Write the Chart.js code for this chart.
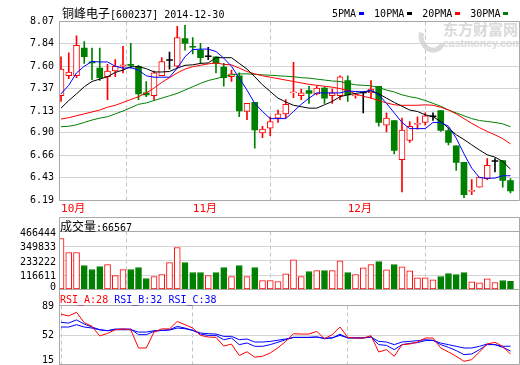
<!DOCTYPE html>
<html lang="zh-CN">
<head>
<meta charset="utf-8">
<title>铜峰电子[600237] 2014-12-30</title>
<script src="https://cdn.jsdelivr.net/npm/chart.js@4.4.1/dist/chart.umd.min.js"></script>
<style>
  html, body { margin: 0; padding: 0; background: #fff; }
  #wrap { position: relative; width: 520px; height: 365px; overflow: hidden; }
  #wrap canvas { position: absolute; left: 0; }
  .t { position: absolute; white-space: nowrap; font: 10px/14px "DejaVu Sans Mono", monospace; color: #000; }
  .cjk { font-family: "Noto Sans CJK SC", sans-serif; font-size: 12px; }
  .leg i { display: inline-block; width: 5px; height: 3px; margin: 0 10px 0 3px; vertical-align: 2px; }
  .wm1 { position: absolute; left: 443px; top: 20px; font: bold 15px/18px "Noto Sans CJK SC"; color: #dadada; }
  .wm2 { position: absolute; left: 443px; top: 37px; font: bold 10.5px/12px "Liberation Sans"; color: #dadada; }
  .logo { position: absolute; left: 419px; top: 23px; width: 16px; height: 20px; border: 5px solid transparent;
          border-left-color: #dadada; border-bottom-color: #dadada; border-radius: 50%; transform: rotate(-25deg); }
</style>
</head>
<body>
<div id="wrap">
  <div class="logo"></div>
  <div class="wm1">东方财富网</div>
  <div class="wm2">eastmoney.com</div>
  <canvas id="cMain" width="520" height="217" style="top:0"></canvas>
  <canvas id="cVol" width="520" height="83" style="top:217px"></canvas>
  <canvas id="cRsi" width="520" height="76" style="top:289px"></canvas>
  <div class="t" id="title" style="left:62px;top:6px"></div>
  <div class="t leg" id="legend" style="left:332px;top:7px"></div>
  <div class="t" id="volLabel" style="left:60px;top:219px"></div>
  <div class="t" id="rsiLabel" style="left:60px;top:293px"></div>
</div>
<script>
// 股票信息
const stockName = '铜峰电子';
const stockCode = '600237';
const lastDate = '2014-12-30';

// 交易日 (2014年10月9日 - 12月30日)
const dates = [
  '10-09','10-10','10-13','10-14','10-15','10-16','10-17','10-20','10-21','10-22',
  '10-23','10-24','10-27','10-28','10-29','10-30','10-31',
  '11-03','11-04','11-05','11-06','11-07','11-10','11-11','11-12','11-13','11-14',
  '11-17','11-18','11-19','11-20','11-21','11-24','11-25','11-26','11-27','11-28',
  '12-01','12-02','12-03','12-04','12-05','12-08','12-09','12-10','12-11','12-12',
  '12-15','12-16','12-17','12-18','12-19','12-22','12-23','12-24','12-25','12-26',
  '12-29','12-30'
];
const monthLabels = ['10月', '11月', '12月'];

// K线数据
const open = [7.29,7.50,7.50,7.79,7.645,7.58,7.49,7.55,7.60,7.62, 7.60,7.32,7.29,7.50,7.66,7.60,7.89,7.81,7.77,7.70,
  7.70,7.59,7.49,7.50,7.125,7.22,6.90,6.95,7.055,7.10, 7.32,7.29,7.345,7.31,7.37,7.29,7.29,7.45,7.29,7.32,
  7.32,7.39,6.98,7.03,6.62,6.82,6.99,7.01,7.07,7.135, 6.925,6.765,6.59,6.285,6.33,6.42,6.60,6.61,6.40];
const high = [7.70,7.74,7.92,7.86,7.79,7.79,7.62,7.67,7.81,7.84, 7.61,7.44,7.55,7.69,7.75,8.02,8.03,7.90,7.84,7.80,
  7.70,7.63,7.56,7.53,7.21,7.22,6.97,7.07,7.14,7.25, 7.64,7.36,7.39,7.39,7.38,7.36,7.50,7.50,7.31,7.33,
  7.45,7.39,7.11,7.03,7.055,7.02,7.07,7.11,7.11,7.135, 6.95,6.765,6.59,6.41,6.435,6.63,6.63,6.61,6.42];
const low = [7.23,7.47,7.48,7.63,7.46,7.45,7.25,7.49,7.53,7.58, 7.25,7.28,7.25,7.50,7.57,7.58,7.77,7.73,7.63,7.67,
  7.53,7.39,7.44,7.07,7.04,6.74,6.85,6.87,7.01,7.055, 7.27,7.25,7.21,7.30,7.21,7.21,7.25,7.23,7.265,7.11,
  7.265,6.97,6.91,6.68,6.28,6.80,6.94,6.98,7.03,6.915, 6.775,6.505,6.22,6.25,6.33,6.41,6.49,6.33,6.27];
const close = [7.57,7.54,7.82,7.70,7.635,7.48,7.55,7.60,7.615,7.61, 7.31,7.30,7.53,7.65,7.66,7.90,7.84,7.80,7.69,7.70,
  7.63,7.48,7.52,7.13,7.21,6.93,6.94,7.02,7.10,7.20, 7.33,7.32,7.315,7.37,7.265,7.32,7.49,7.30,7.30,7.32,
  7.36,7.01,7.055,6.715,6.93,6.97,6.995,7.08,7.07,6.925, 6.80,6.59,6.25,6.29,6.435,6.56,6.60,6.40,6.29];

// 均线
const ma5 = [7.31,7.40,7.53,7.60,7.65,7.645,7.645,7.60,7.58,7.585, 7.56,7.50,7.485,7.485,7.485,7.58,7.70,7.775,7.78,7.78,
  7.755,7.685,7.60,7.475,7.35,7.21,7.125,7.05,7.05,7.05, 7.125,7.20,7.265,7.32,7.32,7.32,7.32,7.34,7.335,7.33,
  7.35,7.30,7.21,7.11,7.01,6.945,6.945,6.945,7.01,7.01, 6.97,6.845,6.68,6.53,6.43,6.425,6.425,6.45,6.45];
const ma10 = [7.16,7.24,7.31,7.385,7.44,7.465,7.49,7.535,7.56,7.595, 7.595,7.575,7.54,7.54,7.545,7.58,7.61,7.615,7.63,7.635,
  7.69,7.69,7.69,7.63,7.57,7.49,7.405,7.335,7.265,7.225, 7.19,7.175,7.16,7.16,7.195,7.23,7.28,7.30,7.315,7.325,
  7.34,7.31,7.265,7.22,7.18,7.14,7.125,7.09,7.07,7.02, 6.95,6.88,6.83,6.775,6.72,6.67,6.645,6.60,6.52];
const ma20 = [7.045,7.06,7.08,7.10,7.12,7.14,7.17,7.19,7.22,7.25, 7.28,7.32,7.37,7.43,7.48,7.53,7.57,7.595,7.61,7.625,
  7.635,7.62,7.615,7.58,7.545,7.52,7.50,7.485,7.47,7.455, 7.44,7.425,7.41,7.40,7.39,7.38,7.365,7.345,7.31,7.285,
  7.265,7.24,7.215,7.195,7.19,7.19,7.19,7.195,7.19,7.17, 7.14,7.10,7.05,7.00,6.955,6.915,6.88,6.84,6.785];
const ma30 = [6.965,6.97,6.985,7.01,7.035,7.055,7.07,7.10,7.13,7.165, 7.20,7.215,7.24,7.265,7.29,7.315,7.35,7.385,7.42,7.45,
  7.47,7.49,7.51,7.52,7.52,7.515,7.51,7.505,7.50,7.495, 7.49,7.48,7.475,7.465,7.455,7.445,7.44,7.42,7.405,7.40,
  7.395,7.375,7.35,7.33,7.30,7.28,7.265,7.24,7.21,7.18, 7.14,7.11,7.08,7.05,7.03,7.02,7.01,6.995,6.965];

// 成交量
const volume = [410100,297600,297600,193000,160800,185000,201000,112600,160800,160800,
  176900,88500,104500,120600,217100,337800,217100,136700,136700,112600,
  136700,176900,104500,193000,104500,176900,72400,72400,64300,126300,
  238800,104500,144800,152800,152800,152800,230800,136700,120600,174500,
  201000,225200,158400,201000,182600,150400,94100,94100,78000,104500,
  128700,120600,136700,61900,53900,86000,56300,72400,66567];

// RSI
const rsiA = [78,76,80.5,67.5,62.8,50.8,54,58.6,59.5,58.6, 35.7,35.7,55.7,59.7,59.7,69,64.9,60.7,51.5,49.5,
  49,38.2,40.5,26.3,31,24.2,25.3,29.5,36,44, 53.6,53.2,53.2,56.5,47.4,52.4,62,49,48.2,48.2,
  51.1,30.7,33.6,25.3,39.9,40.7,43.2,48.2,48.2,35.7, 30.7,25.3,19,21.1,30.7,40.7,42.8,37.8,28];
const rsiB = [67.8,67,71,65.7,62,58.6,57.4,59.5,59.5,59.5, 52.4,52.4,56.5,57.8,58.6,62.8,60.7,57.8,53.2,51.5,
  51.5,46.1,48.2,39.9,42,37.8,37.8,39.9,43,46, 49,49,49,49.5,47.4,48.2,53,48.2,48.2,48.2,
  49.5,39.9,39,33.6,39.9,41.5,42.4,44.9,45.3,39.9, 36.5,32.4,27.4,28.2,33.6,39.9,39.9,36.5,32];
const rsiC = [62,62,64.9,62,60.7,58.6,57.4,58.6,58.6,58.6, 55.7,55.7,57.4,57.8,58.2,60.7,59.9,57.8,54.5,53.6,
  53.2,50.3,50.3,46.1,47,43.2,43.2,44,45.5,47, 49,49,49,49.5,48,48.5,51.5,48.5,48.5,48.5,
  49.5,44,43.2,39.9,43.2,44,44.9,46.1,45.3,41.9, 39.9,37.8,35.7,35.7,37.8,40.7,39.9,37.8,38];

// 刻度
const priceTicks = [8.07, 7.84, 7.60, 7.37, 7.13, 6.90, 6.66, 6.43, 6.19];
const volTicks = [466444, 349833, 233222, 116611, 0];
const rsiTicks = [89, 52, 15];

// 颜色
const RED = '#ff0000', GREEN = '#008000', BLACK = '#000000', BLUE = '#0000ff';
const GRID = '#d4d4d4', FRAME = '#a8a8a8', DASH = '#c4c4c4';
const maList = [
  { name: '5PMA', data: ma5, color: BLUE },
  { name: '10PMA', data: ma10, color: BLACK },
  { name: '20PMA', data: ma20, color: RED },
  { name: '30PMA', data: ma30, color: GREEN }
];
const rsiList = [
  { name: 'RSI_A', data: rsiA, color: RED },
  { name: 'RSI_B', data: rsiB, color: BLUE },
  { name: 'RSI_C', data: rsiC, color: BLUE }
];

// 每月第一个交易日
const monthIdx = [];
dates.forEach((d, i) => { if (i === 0 || d.slice(0, 2) !== dates[i - 1].slice(0, 2)) monthIdx.push(i); });

const candleColor = (i) => close[i] > open[i] ? RED : (close[i] < open[i] ? GREEN : BLACK);
const isUp = (i) => close[i] >= open[i];

// 文字
document.getElementById('title').innerHTML = `<span class="cjk">${stockName}</span>[${stockCode}] ${lastDate}`;
document.getElementById('legend').innerHTML = maList.map(m => `${m.name}<i style="background:${m.color}"></i>`).join('');
document.getElementById('volLabel').innerHTML = `<span class="cjk">成交量</span>:${volume[volume.length - 1]}`;
document.getElementById('rsiLabel').innerHTML = rsiList.map(r => `<span style="color:${r.color}">${r.name}:${r.data[r.data.length - 1]}</span>`).join(' ');

// 边框
const framePlugin = {
  id: 'frame',
  afterDraw(chart, args, opts) {
    const { ctx, chartArea: a } = chart;
    const l = a.left + 0.5, r = a.right + 0.5, t = a.top, b = a.bottom;
    const top0 = opts.boxTop ? 0.5 : t;
    ctx.save();
    ctx.strokeStyle = FRAME;
    ctx.lineWidth = 1;
    ctx.beginPath();
    ctx.moveTo(l, top0); ctx.lineTo(l, b); ctx.lineTo(r, b); ctx.lineTo(r, top0);
    ctx.moveTo(l, top0); ctx.lineTo(r, top0);
    ctx.moveTo(l, t); ctx.lineTo(r, t);
    ctx.stroke();
    ctx.restore();
  }
};

// 左侧刻度文字
const sideLabels = {
  id: 'sideLabels',
  afterDraw(chart, args, opts) {
    const { ctx, chartArea: a, scales } = chart;
    ctx.save();
    ctx.font = '10px "DejaVu Sans Mono"';
    ctx.fillStyle = '#000';
    ctx.textAlign = 'right';
    ctx.textBaseline = 'middle';
    opts.values.forEach((v, k) => {
      let py = scales.y.getPixelForValue(v) + opts.dy;
      py = Math.min(py, a.bottom - opts.clamp);
      ctx.fillText(opts.labels[k], opts.right, py);
    });
    ctx.restore();
  }
};

function xScale(showLabels) {
  return {
    type: 'linear', min: -0.26, max: 59.1, offset: false,
    afterBuildTicks: s => { s.ticks = monthIdx.map(v => ({ value: v })); },
    afterFit: s => { s.height = showLabels ? 16.5 : 0; },
    grid: { color: DASH, drawTicks: false },
    border: { display: false, dash: [4, 3] },
    ticks: {
      display: showLabels, autoSkip: false, maxRotation: 0, align: 'start', padding: 2,
      color: RED, font: { family: '"DejaVu Sans Mono", "Noto Sans CJK SC"', size: 11 },
      callback: v => monthLabels[monthIdx.indexOf(v)]
    }
  };
}

function yScale(min, max, vals) {
  return {
    type: 'linear', min, max,
    afterBuildTicks: s => { s.ticks = vals.map(v => ({ value: v })); },
    afterFit: s => { s.width = 59; },
    grid: { color: GRID, drawTicks: false },
    border: { display: false },
    ticks: { display: false }
  };
}

const base = {
  responsive: false, animation: false, events: [], devicePixelRatio: 1
};

// 主图 K线 + 均线
new Chart(document.getElementById('cMain'), {
  type: 'bar',
  data: {
    datasets: [
      {
        data: dates.map((d, i) => ({ x: i, y: [low[i], high[i]] })),
        backgroundColor: dates.map((d, i) => candleColor(i)),
        barThickness: 1, grouped: false, order: 3
      },
      {
        data: dates.map((d, i) => ({ x: i, y: [open[i], close[i]] })),
        backgroundColor: dates.map((d, i) => candleColor(i) === RED ? '#ffffff' : candleColor(i)),
        borderColor: dates.map((d, i) => candleColor(i)),
        borderWidth: dates.map((d, i) => candleColor(i) === RED ? 1 : 0),
        borderSkipped: false, barThickness: 6, minBarLength: 1, grouped: false, order: 2
      },
      ...maList.map(m => ({
        type: 'line', data: m.data.map((v, i) => ({ x: i, y: v })),
        borderColor: m.color, borderWidth: 1, pointRadius: 0, tension: 0, order: 0
      }))
    ]
  },
  options: {
    ...base,
    layout: { padding: { top: 21.5, right: 1, left: 0, bottom: 0 } },
    scales: { x: xScale(true), y: yScale(6.19, 8.07, priceTicks) },
    plugins: {
      legend: { display: false }, tooltip: { enabled: false },
      frame: { boxTop: false },
      sideLabels: { values: priceTicks, labels: priceTicks.map(v => v.toFixed(2)), right: 54, dy: 0, clamp: 0 }
    }
  },
  plugins: [framePlugin, sideLabels]
});

// 成交量
new Chart(document.getElementById('cVol'), {
  type: 'bar',
  data: {
    datasets: [{
      data: volume.map((v, i) => ({ x: i, y: v })),
      backgroundColor: volume.map((v, i) => isUp(i) ? '#ffffff' : GREEN),
      borderColor: volume.map((v, i) => isUp(i) ? RED : GREEN),
      borderWidth: 1, borderSkipped: false, barThickness: 6, grouped: false
    }]
  },
  options: {
    ...base,
    layout: { padding: { top: 14.5, right: 1, left: 0, bottom: 10.5 } },
    scales: { x: xScale(false), y: yScale(0, 466444, volTicks) },
    plugins: {
      legend: { display: false }, tooltip: { enabled: false },
      frame: { boxTop: true },
      sideLabels: { values: volTicks, labels: volTicks.map(String), right: 56, dy: 1.5, clamp: 2.5 }
    }
  },
  plugins: [framePlugin, sideLabels]
});

// RSI
new Chart(document.getElementById('cRsi'), {
  type: 'line',
  data: {
    datasets: rsiList.map(r => ({
      data: r.data.map((v, i) => ({ x: i, y: v })),
      borderColor: r.color, borderWidth: 1, pointRadius: 0, tension: 0
    }))
  },
  options: {
    ...base,
    layout: { padding: { top: 16.5, right: 1, left: 0, bottom: 0.5 } },
    scales: { x: xScale(false), y: yScale(15, 89, rsiTicks) },
    plugins: {
      legend: { display: false }, tooltip: { enabled: false },
      frame: { boxTop: true },
      sideLabels: { values: rsiTicks, labels: rsiTicks.map(String), right: 54, dy: 0.5, clamp: 4.5 }
    }
  },
  plugins: [framePlugin, sideLabels]
});
</script>
</body>
</html>
